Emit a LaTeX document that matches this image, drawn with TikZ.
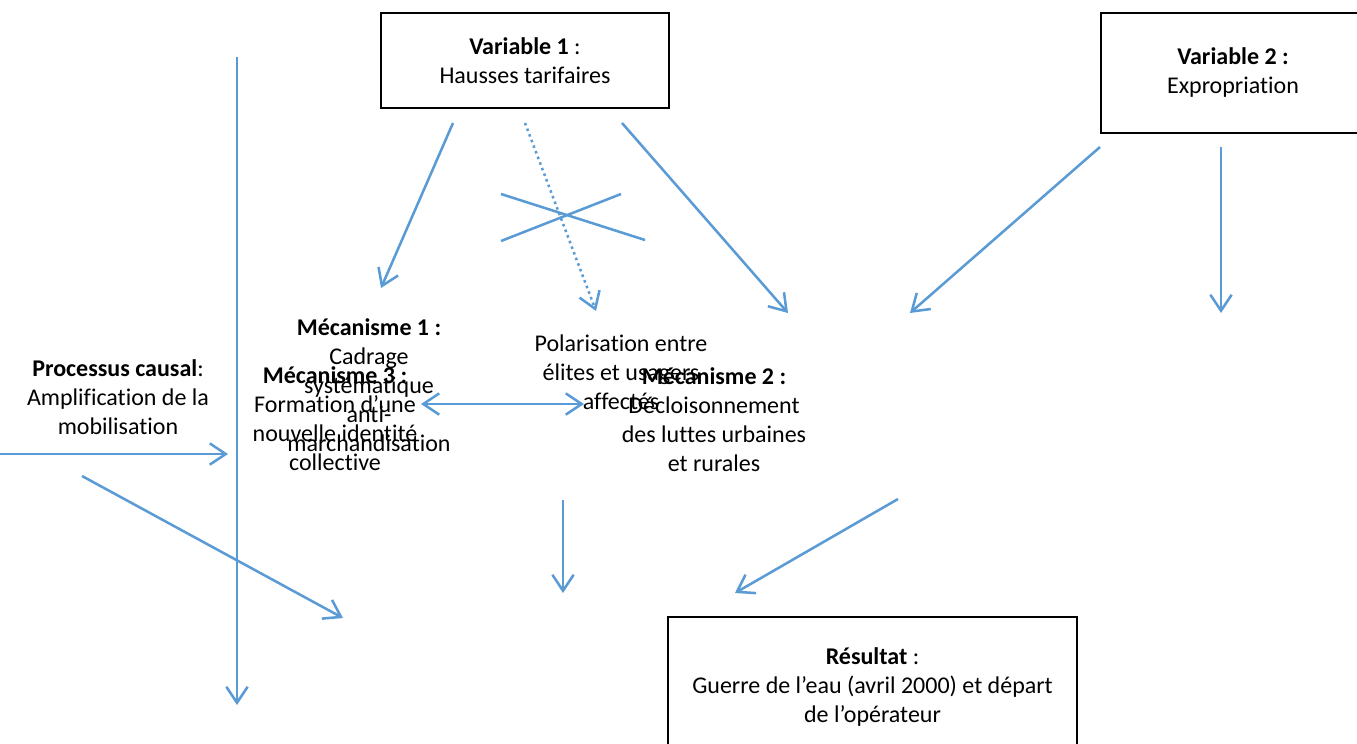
\documentclass[tikz,border=0pt]{standalone}
\usepackage{fontspec}
\setmainfont{Carlito}[Ligatures=NoCommon]
\usetikzlibrary{arrows.meta}
\definecolor{lineblue}{HTML}{5B9BD5}
\begin{document}
\begin{tikzpicture}[x=0.75pt,y=-0.75pt,
  txt/.style={align=center,inner sep=0pt,font=\fontsize{18pt}{21.75pt}\selectfont},
  box/.style={txt,draw=black,line width=1pt},
  conn/.style={draw=lineblue,line width=1.9pt,-{Straight Barb[length=12pt,width=16pt]}},
  dconn/.style={draw=lineblue,line width=1.9pt,{Straight Barb[length=12pt,width=16pt]}-{Straight Barb[length=12pt,width=16pt]}},
  dotconn/.style={conn,dash pattern=on 1.9pt off 2.6pt},
  plain/.style={draw=lineblue,line width=1.9pt}]
\useasboundingbox (0,0) rectangle (1357,743);
% boxes
\node[box,minimum width=216pt,minimum height=71.25pt] (var1) at (525,60.5) {\textbf{Variable 1} :\\Hausses tarifaires};
\node[box,minimum width=198pt,minimum height=90pt] (var2) at (1233,73) {\textbf{Variable 2 :}\\Expropriation};
\node[box,minimum width=306.75pt,minimum height=105pt] (res) at (872.5,687) {\textbf{Résultat} :\\Guerre de l’eau (avril 2000) et départ\\de l’opérateur};
% free texts
\node[txt] (proc) at (118,397) {\textbf{Processus causal}:\\Amplification de la\\mobilisation};
\node[txt] (mec1) at (369,385) {\textbf{Mécanisme 1 :}\\Cadrage\\systématique\\anti-\\marchandisation};
\node[txt] (mec3) at (335,419) {\textbf{Mécanisme 3 :}\\Formation d’une\\nouvelle identité\\collective};
\node[txt] (pol) at (621,372) {Polarisation entre\\élites et usagers\\affectés};
\node[txt] (mec2) at (714,420) {\textbf{Mécanisme 2 :}\\Décloisonnement\\des luttes urbaines\\et rurales};
% coordinates
\coordinate (vl-s) at (237,57);   \coordinate (vl-e) at (237,705);
\coordinate (h-s) at (0,454);     \coordinate (h-e) at (228,454);
\coordinate (d1-s) at (82,476);   \coordinate (d1-e) at (343,618);
\coordinate (v1a-s) at (453,123); \coordinate (v1a-e) at (381,288);
\coordinate (v1b-s) at (525,123); \coordinate (v1b-e) at (596,311);
\coordinate (v1c-s) at (622,123); \coordinate (v1c-e) at (788,313);
\coordinate (v2a-s) at (1100,147);\coordinate (v2a-e) at (910,313);
\coordinate (v2b-s) at (1221,147);\coordinate (v2b-e) at (1221,313);
\coordinate (dbl-s) at (421,404); \coordinate (dbl-e) at (584,404);
\coordinate (m-s) at (563,500);   \coordinate (m-e) at (563,593);
\coordinate (r-s) at (898,499);   \coordinate (r-e) at (735,593);
\coordinate (xa-s) at (501,194);  \coordinate (xa-e) at (645,240);
\coordinate (xb-s) at (501,241);  \coordinate (xb-e) at (621,194);
% connectors
\draw[conn] (vl-s) -- (vl-e);
\draw[conn] (h-s) -- (h-e);
\draw[conn] (d1-s) -- (d1-e);
\draw[conn] (v1a-s) -- (v1a-e);
\draw[dotconn] (v1b-s) -- (v1b-e);
\draw[conn] (v1c-s) -- (v1c-e);
\draw[conn] (v2a-s) -- (v2a-e);
\draw[conn] (v2b-s) -- (v2b-e);
\draw[dconn] (dbl-s) -- (dbl-e);
\draw[conn] (m-s) -- (m-e);
\draw[conn] (r-s) -- (r-e);
\draw[plain] (xa-s) -- (xa-e);
\draw[plain] (xb-s) -- (xb-e);
\end{tikzpicture}
\end{document}
